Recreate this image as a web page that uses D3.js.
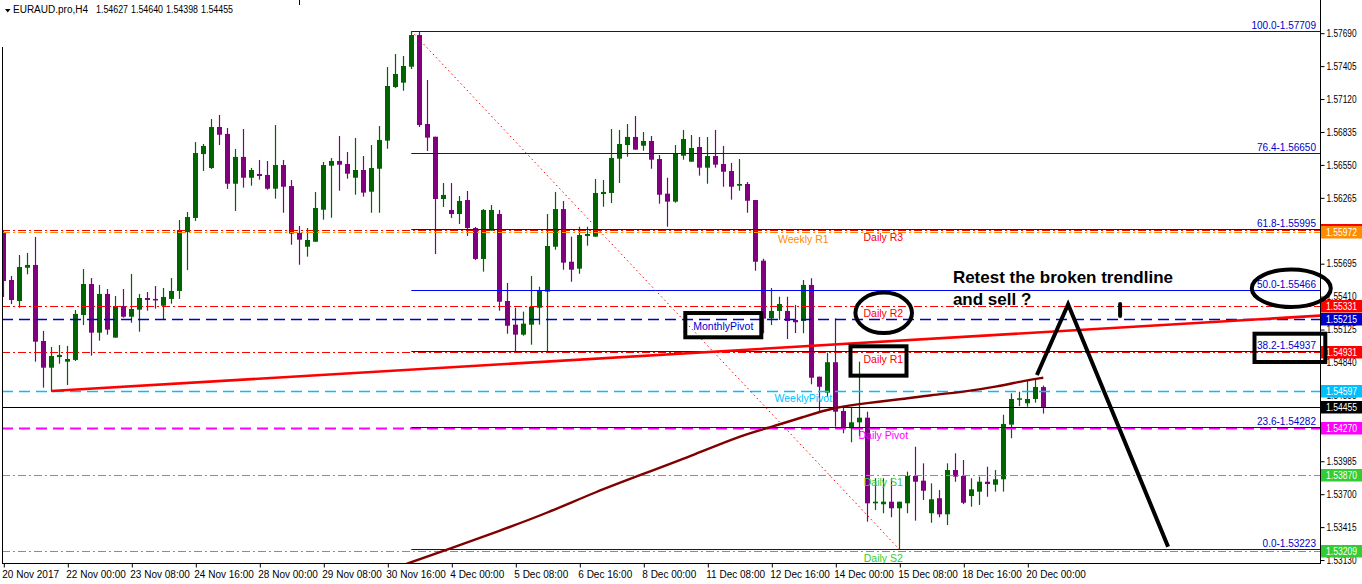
<!DOCTYPE html>
<html><head><meta charset="utf-8">
<script src="https://cdn.jsdelivr.net/npm/d3@7"></script>
<style>
body{margin:0;background:#fff;}
svg{display:block;}
text{font-family:"Liberation Sans",Arial,sans-serif;}
</style>
</head><body>
<svg id="c" width="1362" height="584"></svg>
<script>
// ---------------- DATA ----------------
const symbolTitle = "EURAUD.pro,H4";
const opens=[1.55961,1.55554,1.55372,1.55660,1.55684,1.55026,1.54795,1.54887,1.54847,1.54862,
1.55251,1.55519,1.55098,1.55433,1.55055,1.55329,1.55236,1.55297,1.55398,1.55390,
1.55331,1.55390,1.55459,1.55969,1.56091,1.56644,1.56523,1.56878,1.56818,1.56387,
1.56619,1.56439,1.56471,1.56463,1.56344,1.56549,1.56367,1.55961,1.55842,1.55885,
1.56162,1.56543,1.56584,1.56558,1.56439,1.56506,1.56318,1.56517,1.56760,1.57224,
1.57262,1.57400,1.57674,1.56904,1.56794,1.56255,1.56160,1.56125,1.56246,1.56004,
1.55736,1.55981,1.56125,1.55372,1.55167,1.55081,1.55167,1.55314,1.55453,1.55842,
1.56168,1.55712,1.55652,1.55935,1.55929,1.56298,1.56307,1.56604,1.56722,1.56792,
1.56716,1.56757,1.56601,1.56301,1.56232,1.56630,1.56578,1.56705,1.56526,1.56627,
1.56558,1.56497,1.56370,1.56385,1.56246,1.55721,1.55222,1.55286,1.55286,1.55208,
1.55199,1.55511,1.54717,1.54579,1.54842,1.54420,1.54270,1.54322,1.54362,1.53621,
1.53613,1.53635,1.53578,1.53621,1.53858,1.53817,1.53535,1.53665,1.53526,1.53909,
1.53858,1.53684,1.53722,1.53808,1.53782,1.53829,1.54302,1.54521,1.54487,1.54524,
1.54627];
const highs=[1.55987,1.55589,1.55770,1.55788,1.55926,1.55113,1.54974,1.54991,1.54983,1.55294,
1.55649,1.55571,1.55511,1.55476,1.55415,1.55476,1.55606,1.55433,1.55450,1.55502,
1.55485,1.55571,1.56073,1.56142,1.56748,1.56731,1.56947,1.56982,1.56870,1.56688,
1.56861,1.56523,1.56593,1.56584,1.56895,1.56593,1.56419,1.56021,1.56004,1.56316,
1.56575,1.56610,1.56800,1.56662,1.56783,1.56627,1.56722,1.56887,1.57397,1.57510,
1.57493,1.57709,1.57700,1.57285,1.56794,1.56393,1.56393,1.56281,1.56324,1.56013,
1.56168,1.56203,1.56160,1.55528,1.55314,1.55280,1.55589,1.55496,1.56125,1.56316,
1.56238,1.55929,1.56015,1.56015,1.56428,1.56419,1.56861,1.56852,1.56904,1.56973,
1.56835,1.56800,1.56636,1.56439,1.56722,1.56852,1.56809,1.56792,1.56792,1.56852,
1.56714,1.56567,1.56601,1.56402,1.56246,1.55738,1.55485,1.55409,1.55409,1.55338,
1.55554,1.55569,1.54717,1.54925,1.55222,1.54457,1.54457,1.54847,1.54414,1.53838,
1.53838,1.53838,1.53635,1.53895,1.54111,1.53967,1.53794,1.53736,1.53967,1.54054,
1.53996,1.53838,1.53852,1.53938,1.53909,1.54388,1.54573,1.54587,1.54688,1.54688,
1.54640];
const lows=[1.55407,1.55346,1.55314,1.55603,1.54847,1.54622,1.54587,1.54829,1.54645,1.54853,
1.55164,1.54899,1.55029,1.55081,1.55055,1.55228,1.55184,1.55106,1.55288,1.55306,
1.55214,1.55349,1.55390,1.55640,1.56065,1.56497,1.56515,1.56722,1.56342,1.56151,
1.56353,1.56370,1.56422,1.56335,1.56258,1.56136,1.55859,1.55686,1.55756,1.55885,
1.56076,1.56093,1.56327,1.56431,1.56292,1.56275,1.56136,1.56136,1.56690,1.57216,
1.57192,1.57380,1.56878,1.56670,1.55779,1.56186,1.56091,1.56039,1.55935,1.55727,
1.55626,1.55981,1.55288,1.55089,1.54933,1.55072,1.54994,1.55167,1.54925,1.55816,
1.55643,1.55539,1.55608,1.55851,1.55929,1.56188,1.56220,1.56393,1.56621,1.56682,
1.56673,1.56517,1.56214,1.56015,1.56223,1.56595,1.56578,1.56457,1.56387,1.56526,
1.56361,1.56249,1.56327,1.56136,1.55634,1.55093,1.55164,1.55208,1.55043,1.55095,
1.55093,1.54651,1.54405,1.54544,1.54284,1.54227,1.54149,1.54206,1.53462,1.53563,
1.53535,1.53500,1.53223,1.53535,1.53471,1.53650,1.53453,1.53500,1.53433,1.53808,
1.53615,1.53592,1.53607,1.53678,1.53722,1.53722,1.54184,1.54463,1.54457,1.54492,
1.54398];
const closes=[1.55545,1.55381,1.55666,1.55684,1.55020,1.54795,1.54896,1.54905,1.54870,1.55260,
1.55519,1.55098,1.55433,1.55124,1.55329,1.55236,1.55303,1.55398,1.55381,1.55383,
1.55407,1.55459,1.55987,1.56099,1.56653,1.56714,1.56878,1.56811,1.56387,1.56619,
1.56439,1.56506,1.56454,1.56344,1.56549,1.56361,1.55955,1.55903,1.55900,1.56177,
1.56549,1.56584,1.56552,1.56474,1.56506,1.56310,1.56523,1.56766,1.57233,1.57337,
1.57406,1.57674,1.56895,1.56786,1.56255,1.56290,1.56125,1.56238,1.56004,1.55736,
1.56160,1.56160,1.55366,1.55158,1.55081,1.55176,1.55323,1.55461,1.55848,1.56168,
1.55704,1.55643,1.55943,1.55952,1.56307,1.56316,1.56610,1.56731,1.56792,1.56682,
1.56757,1.56595,1.56292,1.56232,1.56647,1.56774,1.56696,1.56526,1.56627,1.56552,
1.56491,1.56361,1.56385,1.56240,1.55712,1.55219,1.55286,1.55346,1.55199,1.55188,
1.55511,1.54708,1.54630,1.54842,1.54414,1.54270,1.54322,1.54362,1.53621,1.53635,
1.53635,1.53578,1.53635,1.53858,1.53808,1.53730,1.53656,1.53526,1.53909,1.53852,
1.53626,1.53742,1.53808,1.53788,1.53829,1.54308,1.54524,1.54530,1.54524,1.54628,
1.54455];

const timeTickIdx=[0,8,16,24,32,40,48,56,64,72,80,88,96,104,112,120,128];
const timeLabels=["20 Nov 2017","22 Nov 00:00","23 Nov 08:00","24 Nov 16:00","28 Nov 00:00",
"29 Nov 08:00","30 Nov 16:00","4 Dec 00:00","5 Dec 08:00","6 Dec 16:00","8 Dec 00:00",
"11 Dec 08:00","12 Dec 16:00","14 Dec 00:00","15 Dec 08:00","18 Dec 16:00","20 Dec 00:00"];
const priceTicks=[1.57690,1.57405,1.57120,1.56835,1.56550,1.56265,1.55980,1.55695,1.55410,
1.55125,1.54840,1.54555,1.54270,1.53985,1.53700,1.53415,1.53130];

const fibLevels=["100.0","76.4","61.8","50.0","38.2","23.6","0.0"];
const fibPrices=[1.57709,1.56650,1.55995,1.55466,1.54937,1.54282,1.53223];
const fibStartIdx=51, fibEndIdx=112;

const levelNames=["Daily R3","Weekly R1","Daily R2","MonthlyPivot","Daily R1","WeeklyPivot","Daily Pivot","Daily S1","Daily S2"];
const levelPrices=[1.55990,1.55972,1.55331,1.55215,1.54931,1.54597,1.54270,1.53870,1.53209];
const levelLabelIdx=[110,100,110,90,110,100,110,110,110];

const maIdx=[50,56,62,68,74,80,86,92,96,100,104,108,112,116,120,124,128,130];
const maVals=[1.53087,1.53234,1.53382,1.53537,1.53719,1.53875,1.54031,1.54204,1.54282,1.54368,
1.54455,1.54489,1.54520,1.54559,1.54585,1.54628,1.54688,1.54708];

const trendIdx=[6,130];
const trendVals=[1.54593,1.55103];

const noteLines=["Retest the broken trendline","and sell ?"];
const zigIdx=[129.2,133.1,145.6];
const zigVals=[1.54732,1.55344,1.53246];

// ---------------- STYLES ----------------
const levelStyle={
 "Daily R3":{c:"#ff0000",d:"8,3,2,3",w:1},
 "Weekly R1":{c:"#ff8c00",d:"8,3,2,3",w:1},
 "Daily R2":{c:"#ff0000",d:"8,3,2,3",w:1},
 "MonthlyPivot":{c:"#0000cd",d:"11,6",w:1.3},
 "Daily R1":{c:"#ff0000",d:"8,3,2,3",w:1},
 "WeeklyPivot":{c:"#00bfff",d:"11,6",w:1.3},
 "Daily Pivot":{c:"#ff00ff",d:"11,6",w:2},
 "Daily S1":{c:"#32cd32",d:"8,3,2,3",w:1},
 "Daily S2":{c:"#32cd32",d:"8,3,2,3",w:1}
};
const BULL="#006400", BEAR="#800080", FIB="#0000ff", FIBTXT="#0000cd";

// ---------------- CHART ----------------
const svg=d3.select("#c");
svg.append("rect").attr("width",1362).attr("height",584).attr("fill","#fff");
const PL=2,PR=1320,PT=0,PB=563;
const x=d3.scaleLinear().domain([0,130]).range([3.3,1043.3]);
const y=d3.scaleLinear().domain([1.53223,1.57709]).range([549.3,31]);
const last=closes.length-1;
const NUMW=30; // rendered width of a 7-character price label

svg.append("defs").append("clipPath").attr("id","clip").append("rect")
 .attr("x",PL).attr("y",PT).attr("width",PR-PL).attr("height",PB-PT);
const plot=svg.append("g").attr("clip-path","url(#clip)");

// candles
const idx=d3.range(opens.length);
const colOf=i=>closes[i]>=opens[i]?BULL:BEAR;
const cx=i=>Math.round(x(i))+0.5;
plot.append("g").selectAll("line").data(idx).join("line")
 .attr("x1",cx).attr("x2",cx).attr("y1",i=>y(highs[i])).attr("y2",i=>y(lows[i]))
 .attr("stroke",colOf).attr("stroke-width",1.2);
plot.append("g").selectAll("rect").data(idx).join("rect")
 .attr("x",i=>cx(i)-2.5).attr("width",5)
 .attr("y",i=>y(Math.max(opens[i],closes[i])))
 .attr("height",i=>Math.max(1.5,y(Math.min(opens[i],closes[i]))-y(Math.max(opens[i],closes[i]))))
 .attr("fill",colOf);

// horizontal level lines
plot.append("g").selectAll("line").data(levelNames).join("line")
 .attr("x1",PL).attr("x2",PR)
 .attr("y1",(d,i)=>Math.round(y(levelPrices[i]))+0.5).attr("y2",(d,i)=>Math.round(y(levelPrices[i]))+0.5)
 .attr("stroke",d=>levelStyle[d].c).attr("stroke-width",d=>levelStyle[d].w)
 .attr("stroke-dasharray",d=>levelStyle[d].d);

// current price line
plot.append("line").attr("x1",PL).attr("x2",PR)
 .attr("y1",Math.round(y(closes[last]))+0.5).attr("y2",Math.round(y(closes[last]))+0.5)
 .attr("stroke","#000").attr("stroke-width",1);

// fibo lines
plot.append("g").selectAll("line").data(fibPrices).join("line")
 .attr("x1",x(fibStartIdx)).attr("x2",PR)
 .attr("y1",d=>Math.round(y(d))+0.5).attr("y2",d=>Math.round(y(d))+0.5)
 .attr("stroke",FIB).attr("stroke-width",1.1);
plot.append("line")
 .attr("x1",x(fibStartIdx)).attr("y1",y(fibPrices[0]))
 .attr("x2",x(fibEndIdx)).attr("y2",y(fibPrices[fibPrices.length-1]))
 .attr("stroke","#ff0000").attr("stroke-width",1).attr("stroke-dasharray","1.5,3");
plot.append("g").selectAll("text").data(fibLevels).join("text")
 .attr("x",PR-4).attr("y",(d,i)=>Math.round(y(fibPrices[i]))-2.5)
 .attr("text-anchor","end").attr("font-size","10px").attr("fill",FIBTXT)
 .text((d,i)=>d+"-"+fibPrices[i].toFixed(5));

// trendline (ray)
const slope=(trendVals[1]-trendVals[0])/(trendIdx[1]-trendIdx[0]);
const endIdx=x.invert(PR+5);
plot.append("line")
 .attr("x1",x(trendIdx[0])).attr("y1",y(trendVals[0]))
 .attr("x2",x(endIdx)).attr("y2",y(trendVals[0]+slope*(endIdx-trendIdx[0])))
 .attr("stroke","#ff0000").attr("stroke-width",2.6);

// moving average
plot.append("path").datum(maIdx)
 .attr("d",d3.line().x(i=>x(i)).y((i,j)=>y(maVals[j])).curve(d3.curveBasis))
 .attr("fill","none").attr("stroke","#800000").attr("stroke-width",2.4);

// level labels
plot.append("g").selectAll("text").data(levelNames).join("text")
 .attr("x",(d,i)=>x(levelLabelIdx[i])).attr("y",(d,i)=>y(levelPrices[i])+11)
 .attr("text-anchor","middle").attr("font-size","10.5px")
 .attr("fill",d=>levelStyle[d].c).text(d=>d);

// frame lines
svg.append("line").attr("x1",PR+0.5).attr("x2",PR+0.5).attr("y1",0).attr("y2",PB).attr("stroke","#000");
svg.append("line").attr("x1",PL).attr("x2",PR+1).attr("y1",PB+0.5).attr("y2",PB+0.5).attr("stroke","#000");
svg.append("line").attr("x1",PL+0.5).attr("x2",PL+0.5).attr("y1",47).attr("y2",PB).attr("stroke","#000");
svg.append("line").attr("x1",299.5).attr("x2",299.5).attr("y1",0).attr("y2",5).attr("stroke","#000");

// price axis
const ya=svg.append("g").attr("transform",`translate(${PR+0.5},0)`)
 .call(d3.axisRight(y).tickValues(priceTicks).tickSize(4).tickPadding(2).tickFormat(d=>d.toFixed(5)));
ya.select(".domain").remove();
ya.selectAll("text").attr("font-family","Liberation Sans, Arial, sans-serif").attr("font-size","10px").attr("fill","#000")
 .attr("textLength",NUMW).attr("lengthAdjust","spacingAndGlyphs");
ya.selectAll("line").attr("stroke","#000");

// time axis
const xa=svg.append("g").attr("transform",`translate(0,${PB+0.5})`)
 .call(d3.axisBottom(x).tickValues(timeTickIdx).tickSize(4).tickPadding(3).tickFormat((d,i)=>timeLabels[i]));
xa.select(".domain").remove();
xa.selectAll(".tick line").attr("transform","translate(0.5,0)").attr("stroke","#000");
xa.selectAll("text").attr("text-anchor","start").attr("dx","-1.5")
 .attr("font-family","Liberation Sans, Arial, sans-serif").attr("font-size","10px").attr("fill","#000");

// price boxes
const boxes=[{p:levelPrices[0],c:levelStyle["Daily R3"].c},{p:levelPrices[1],c:levelStyle["Weekly R1"].c},
 {p:levelPrices[2],c:"#ff0000"},{p:levelPrices[3],c:"#0000cd"},{p:levelPrices[4],c:"#ff0000"},
 {p:levelPrices[5],c:"#00bfff"},{p:closes[last],c:"#000"},{p:levelPrices[6],c:"#ff00ff"},
 {p:levelPrices[7],c:"#32cd32"},{p:levelPrices[8],c:"#32cd32"}];
const bg=svg.append("g");
boxes.forEach(b=>{
 const yy=Math.round(y(b.p));
 bg.append("rect").attr("x",PR+1).attr("y",yy-6).attr("width",1362-PR-1).attr("height",12.5).attr("fill",b.c);
 bg.append("text").attr("x",PR+6).attr("y",yy+4).attr("font-size","10px").attr("fill","#fff")
  .attr("textLength",NUMW+1).attr("lengthAdjust","spacingAndGlyphs").text(b.p.toFixed(5));
});

// title
svg.append("rect").attr("x",0).attr("y",0).attr("width",299).attr("height",18).attr("fill","#fff");
svg.append("path").attr("d","M5,9 L10.5,9 L7.75,12.5 Z").attr("fill","#000");
svg.append("text").attr("x",13).attr("y",13).attr("font-size","10px").attr("fill","#000").text(symbolTitle);
const ohlc=[opens[last],highs[last],lows[last],closes[last]];
svg.append("g").selectAll("text").data(ohlc).join("text")
 .attr("x",(d,i)=>96+i*35).attr("y",13).attr("font-size","10px").attr("fill","#000")
 .attr("textLength",NUMW+2).attr("lengthAdjust","spacingAndGlyphs").text(d=>d.toFixed(5));

// annotations
const ann=svg.append("g");
ann.append("path").datum(zigIdx)
 .attr("d",d3.line().x(i=>x(i)).y((i,j)=>y(zigVals[j])))
 .attr("fill","none").attr("stroke","#000").attr("stroke-width",4).attr("stroke-linejoin","miter");
ann.append("line").attr("x1",x(139.6)).attr("x2",x(139.6)).attr("y1",y(1.55346)).attr("y2",y(1.55242))
 .attr("stroke","#000").attr("stroke-width",4).attr("stroke-linecap","round");
ann.append("ellipse").attr("cx",x(161.0)).attr("cy",y(1.55482)).attr("rx",39.5).attr("ry",18.7)
 .attr("fill","none").attr("stroke","#000").attr("stroke-width",4);
ann.append("ellipse").attr("cx",x(110.05)).attr("cy",y(1.55270)).attr("rx",28.3).attr("ry",20.2)
 .attr("fill","none").attr("stroke","#000").attr("stroke-width",4);
function boxAnn(i0,i1,p0,p1){
 ann.append("rect").attr("x",x(i0)).attr("y",y(p0)).attr("width",x(i1)-x(i0)).attr("height",y(p1)-y(p0))
  .attr("fill","none").attr("stroke","#000").attr("stroke-width",4);
}
boxAnn(105.9,112.9,1.54980,1.54726);
boxAnn(85.25,94.75,1.55268,1.55058);
boxAnn(156.4,165.25,1.55089,1.54844);
ann.selectAll("text.note").data(noteLines).join("text").attr("class","note")
 .attr("x",x(118.7)).attr("y",(d,i)=>y(i===0?1.55528:1.55338))
 .attr("font-family","Open Sans, sans-serif").attr("font-weight",600).attr("font-size","17px")
 .attr("fill","#000").text(d=>d);
</script>
</body></html>
